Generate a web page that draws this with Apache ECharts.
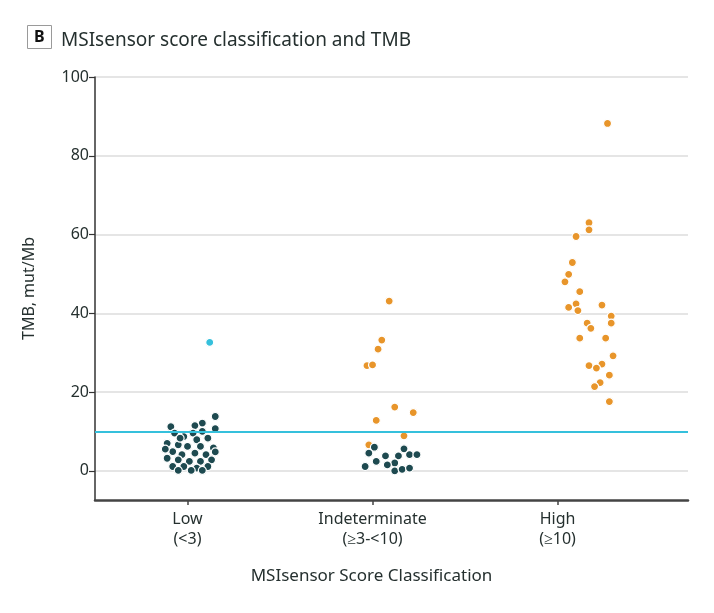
<!DOCTYPE html>
<html>
<head>
<meta charset="utf-8">
<script src="https://cdn.jsdelivr.net/npm/echarts@6/dist/echarts.min.js"></script>
<style>
    html, body { margin: 0; padding: 0; background: #fff; }
    #chart { width: 714px; height: 613px; }
</style>
</head>
<body>
<div id="chart"></div>
<script>
// Category labels and their positions on the x axis
const categories = ['Low\n(<3)', 'Indeterminate\n(≥3-<10)', 'High\n(≥10)'];
const categoryPos = [0.5, 1.5, 2.5];
const yTicks = [0, 20, 40, 60, 80, 100];
const cutoff = 10;

// Low (<3): jitter offsets and TMB values
const lowJitter = [0.15, 0.08, 0.04, -0.09, 0.15, 0.08, 0.03, -0.07, -0.02, 0.11,
    0.05, -0.11, -0.05, 0.0, 0.07, 0.14, -0.08, -0.03, 0.04, 0.10,
    -0.11, -0.05, 0.01, 0.07, 0.13, -0.08, -0.02, 0.05, 0.11, -0.05,
    0.02, 0.08, -0.04, 0.15, -0.12];
const lowTmb = [13.8, 12.1, 11.5, 11.2, 10.7, 10.0, 9.6, 9.6, 8.7, 8.3,
    7.9, 7.0, 6.6, 6.2, 6.2, 5.8, 4.9, 4.1, 4.5, 4.1,
    3.2, 2.8, 2.4, 2.4, 2.8, 1.1, 1.1, 0.7, 1.1, 0.1,
    0.1, 0.1, 8.3, 4.8, 5.5];
// Low outlier above cutoff
const lowHighJitter = [0.12];
const lowHighTmb = [32.6];

// Indeterminate: above / below cutoff
const indetHighJitter = [0.09, 0.05, 0.03, -0.03, 0.0, 0.12, 0.22, 0.02, 0.17, -0.02];
const indetHighTmb = [43.1, 33.2, 30.9, 26.7, 26.9, 16.2, 14.8, 12.8, 8.9, 6.6];
const indetLowJitter = [0.01, -0.02, 0.07, 0.14, 0.17, 0.20, 0.24, 0.02, 0.12, 0.08,
    -0.04, 0.12, 0.16, 0.20];
const indetLowTmb = [6.0, 4.5, 3.8, 3.8, 5.6, 4.1, 4.1, 2.4, 2.0, 1.5,
    1.1, 0.0, 0.4, 0.7];

// High (>=10)
const highJitter = [0.27, 0.17, 0.17, 0.10, 0.08, 0.06, 0.04, 0.12, 0.10, 0.06,
    0.11, 0.24, 0.29, 0.29, 0.16, 0.18, 0.12, 0.26, 0.30, 0.17,
    0.24, 0.21, 0.28, 0.23, 0.20, 0.28];
const highTmb = [88.2, 63.0, 61.2, 59.5, 52.9, 49.9, 48.0, 45.5, 42.4, 41.5,
    40.7, 42.1, 39.3, 37.5, 37.5, 36.2, 33.7, 33.7, 29.2, 26.7,
    27.1, 26.1, 24.3, 22.4, 21.4, 17.6];

const FONT = 'Noto Sans';
const TEXT = '#25302f';
const TEAL = '#1e4a50';
const ORANGE = '#e8952a';
const CYAN = '#35c0dc';

function toPoints(catIndex, jitter, values) {
    return values.map((v, i) => [categoryPos[catIndex] + jitter[i], v]);
}

function dotSeries(name, color, data) {
    return {
        name,
        type: 'scatter',
        z: 3,
        symbolSize: 8,
        itemStyle: { color, borderColor: '#fff', borderWidth: 1.2, opacity: 1 },
        data,
    };
}

let chart = echarts.init(document.getElementById('chart'));
let option = {
    backgroundColor: '#fff',
    animation: false,
    textStyle: { fontFamily: FONT },
    title: [
        {
            text: 'B',
            left: 27,
            top: 25,
            padding: [4, 7],
            borderColor: '#9a9a9a',
            borderWidth: 1,
            textStyle: { fontFamily: FONT, fontSize: 16, fontWeight: 'bold', color: '#111' },
        },
        {
            text: 'MSIsensor score classification and TMB',
            left: 56,
            top: 26,
            textStyle: { fontFamily: FONT, fontSize: 19, fontWeight: 'normal', color: TEXT },
        },
    ],
    grid: { left: 95, right: 26, top: 77, bottom: 113 },
    xAxis: {
        type: 'value',
        min: 0,
        max: 3.205,
        name: 'MSIsensor Score Classification',
        nameLocation: 'middle',
        nameGap: 68,
        nameTextStyle: { fontFamily: FONT, fontSize: 17, color: TEXT, padding: [0, 40, 0, 0] },
        axisLine: { onZero: false, lineStyle: { color: '#444', width: 2.5 } },
        axisTick: { show: true, customValues: categoryPos, length: 5, lineStyle: { color: '#444', width: 1.5 } },
        axisLabel: {
            customValues: categoryPos,
            formatter: (v) => categories[categoryPos.indexOf(v)] || '',
            fontFamily: FONT,
            fontSize: 16,
            lineHeight: 20,
            color: TEXT,
            margin: 9,
        },
        splitLine: { show: false },
    },
    yAxis: {
        type: 'value',
        min: -7.4,
        max: 100,
        name: 'TMB, mut/Mb',
        nameLocation: 'middle',
        nameGap: 58,
        nameTextStyle: { fontFamily: FONT, fontSize: 16, color: TEXT },
        axisLine: { show: true, onZero: false, lineStyle: { color: '#333', width: 1.5 } },
        axisTick: { show: true, customValues: yTicks, length: 6, lineStyle: { color: '#333', width: 1.2 } },
        axisLabel: { customValues: yTicks, fontFamily: FONT, fontSize: 16, color: TEXT, margin: 6 },
        splitLine: { show: true, lineStyle: { color: '#dcdcdc', width: 1.5 } },
    },
    series: [
        {
            type: 'line',
            z: 1,
            data: [],
            markLine: {
                silent: true,
                symbol: 'none',
                label: { show: false },
                lineStyle: { color: CYAN, width: 2, type: 'solid' },
                data: [{ yAxis: cutoff }],
            },
        },
        dotSeries('Low', TEAL, toPoints(0, lowJitter, lowTmb)),
        dotSeries('Low outlier', CYAN, toPoints(0, lowHighJitter, lowHighTmb)),
        dotSeries('Indeterminate high', ORANGE, toPoints(1, indetHighJitter, indetHighTmb)),
        dotSeries('Indeterminate low', TEAL, toPoints(1, indetLowJitter, indetLowTmb)),
        dotSeries('High', ORANGE, toPoints(2, highJitter, highTmb)),
    ],
};
chart.setOption(option);
</script>
</body>
</html>
